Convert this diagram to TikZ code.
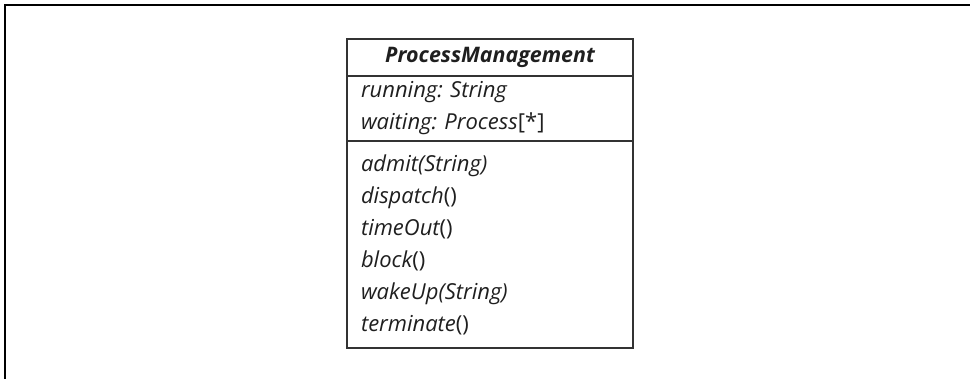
\documentclass[tikz,border=0pt]{standalone}
\usepackage{fontspec}
\setmainfont{Open Sans}
\usetikzlibrary{positioning}
\frenchspacing

\begin{document}
\begin{tikzpicture}[x=1pt, y=-1pt, node distance=0pt,
        classpart/.style={rectangle, draw=black!80, line width=1.2pt, outer sep=0pt, inner sep=0pt,
            minimum width=286pt, text width=258pt, align=left, text=black!88,
            font=\fontsize{22}{32}\selectfont\itshape},
        classname/.style={classpart, minimum height=37pt, align=center,
            font=\fontsize{21.4}{32}\selectfont\bfseries\itshape},
        frame/.style={draw, line width=2pt}]

        \useasboundingbox (0,0) rectangle (970,379);

        % cut-off frame round the figure
        \coordinate (frameRight) at (970,5);
        \coordinate (frameCorner) at (4.5,5);
        \coordinate (frameBottom) at (4.5,379);
        \path [frame] (frameRight) -- (frameCorner) -- (frameBottom);

        \node [classname, anchor=north] (pmName) at (490,39) {ProcessManagement};
        \node [classpart, minimum height=65pt, below=of pmName] (pmAttrs)
            {running: String\\
             waiting: Process{\upshape[*]}};
        \node [classpart, minimum height=207pt, below=of pmAttrs] (pmOps)
            {admit(String)\\
             dispatch{\upshape()}\\
             timeOut{\upshape()}\\
             block{\upshape()}\\
             wakeUp(String)\\
             terminate{\upshape()}};
    \end{tikzpicture}
\end{document}
